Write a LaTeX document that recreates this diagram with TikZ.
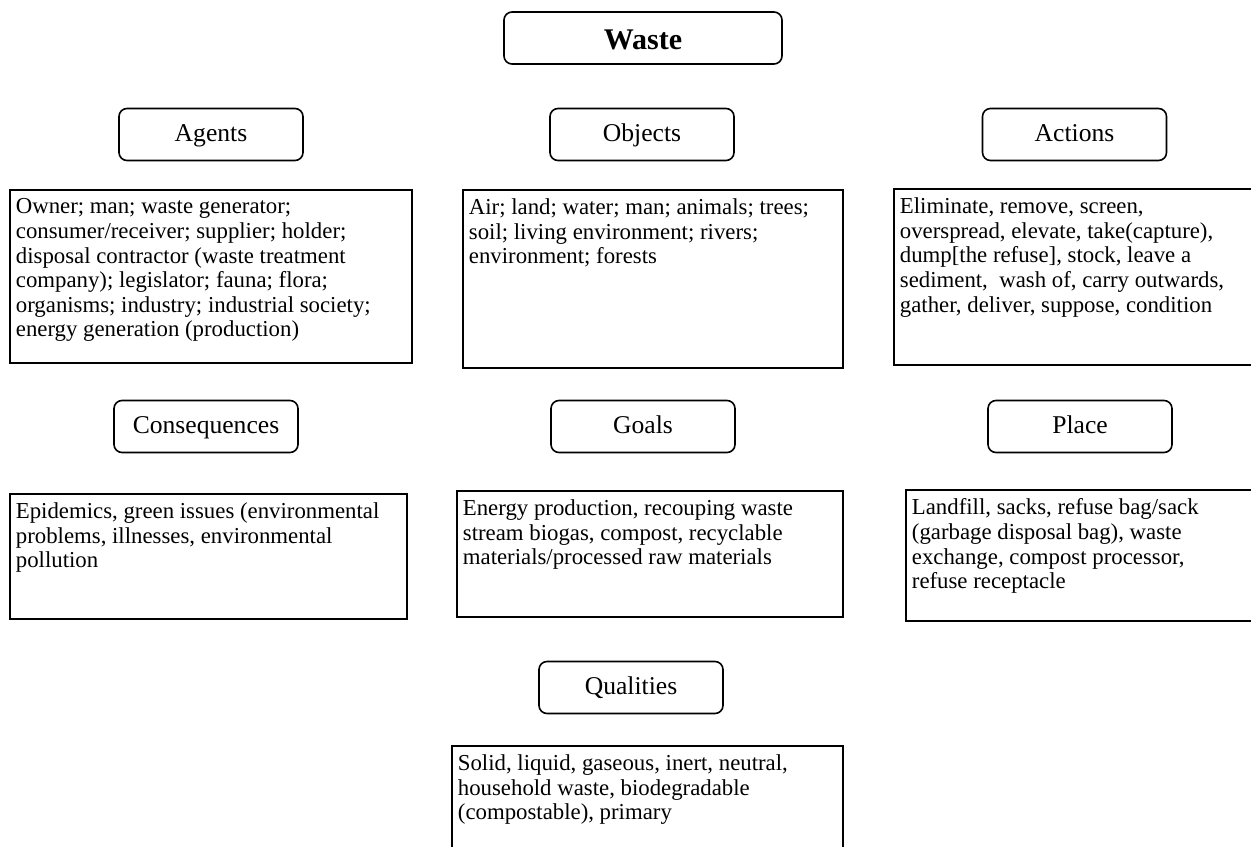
\documentclass[tikz,border=0pt]{standalone}
\usepackage{fontspec}
\setmainfont{Liberation Serif}
\usepackage{tikz}
\newcommand{\txtbox}[3]{\parbox[t][#2][t]{#1}{\raggedright\vspace*{4.5pt}#3}}
\tikzset{
  head/.style={draw, line width=0.8pt, rounded corners=4pt, minimum width=92pt, minimum height=26pt, inner sep=0pt, text height=10pt, text depth=3pt, font=\fontsize{12.8}{14}\selectfont},
  list/.style={draw, line width=0.9pt, anchor=north west, inner xsep=3pt, inner ysep=0pt, font=\fontsize{11.4}{12.3}\selectfont}
}

\begin{document}
\begin{tikzpicture}[x=0.5pt, y=-0.5pt]
\useasboundingbox (0,0) rectangle (1251,846);
\clip (0,0) rectangle (1251,846);
\path (643,38) node[head, minimum width=139pt, text height=11pt, text depth=0pt, font=\fontsize{15}{17}\selectfont\bfseries] (waste) {Waste};

% first row
\path (211,134.5) node[head] (agents) {Agents};
\path (642,134.5) node[head] (objects) {Objects};
\path (1074.5,134.5) node[head] (actions) {Actions};
\path (9,189) node[list] (agentlist) {\txtbox{195pt}{86.5pt}{Owner; man; waste generator;\\ consumer/receiver; supplier; holder;\\ disposal contractor (waste treatment\\ company); legislator; fauna; flora;\\ organisms; industry; industrial society;\\ energy generation (production)}};
\path (462,189) node[list] (objectlist) {\txtbox{184pt}{89pt}{Air; land; water; man; animals; trees;\\ soil; living environment; rivers;\\ environment; forests}};
\path (893,188) node[list] (actionlist) {\txtbox{184pt}{88pt}{Eliminate, remove, screen,\\ overspread, elevate, take(capture),\\ dump[the refuse], stock, leave a\\ sediment,\ \ wash of, carry outwards,\\ gather, deliver, suppose, condition}};

% second row
\path (206,426.5) node[head] (consequences) {Consequences};
\path (643,426.5) node[head] (goals) {Goals};
\path (1080,426.5) node[head] (place) {Place};
\path (9,493) node[list] (conslist) {\txtbox{192.5pt}{62.5pt}{Epidemics, green issues (environmental\\ problems, illnesses, environmental\\ pollution}};
\path (456,490) node[list] (goallist) {\txtbox{187pt}{63pt}{Energy production, recouping waste\\ stream biogas, compost, recyclable\\ materials/processed raw materials}};
\path (905,489) node[list] (placelist) {\txtbox{179pt}{65.5pt}{Landfill, sacks, refuse bag/sack\\ (garbage disposal bag), waste\\ exchange, compost processor,\\ refuse receptacle}};

% last row
\path (631,687.5) node[head] (qualities) {Qualities};
\path (451,745) node[list] (qualitylist) {\txtbox{189.5pt}{65pt}{Solid, liquid, gaseous, inert, neutral,\\ household waste, biodegradable\\ (compostable), primary}};
\end{tikzpicture}
\end{document}
